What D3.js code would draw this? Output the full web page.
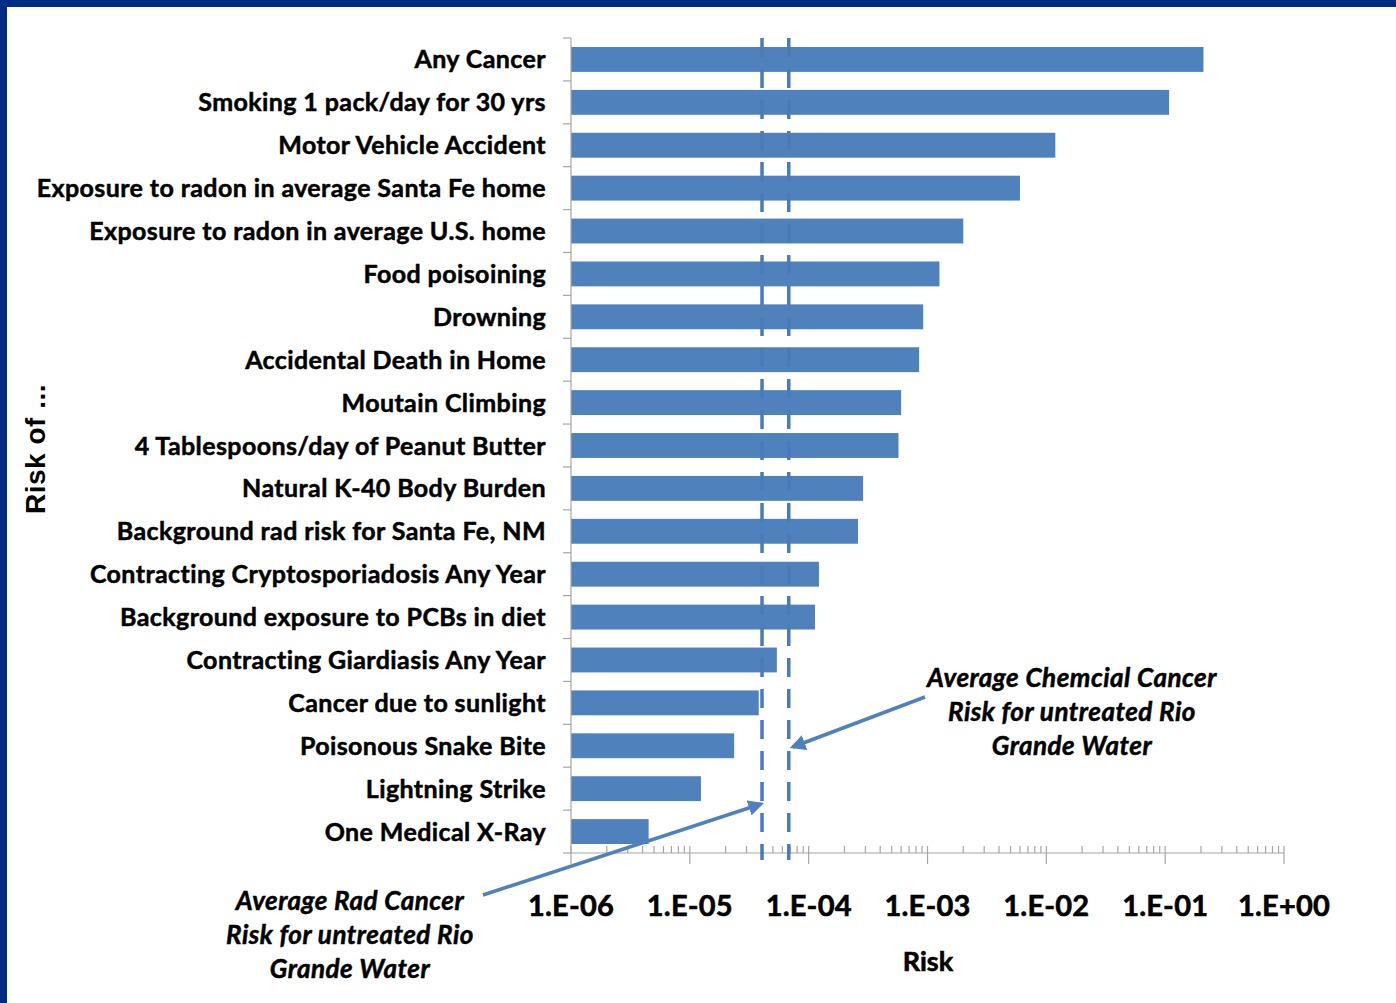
<!DOCTYPE html>
<html>
<head>
<meta charset="utf-8">
<script src="https://cdn.jsdelivr.net/npm/d3@7"></script>
<style>
  body { margin: 0; background: #fff; }
  svg { display: block; }
</style>
</head>
<body>
<script>
// risk categories, top to bottom
var categories = [
  "Any Cancer",
  "Smoking 1 pack/day for 30 yrs",
  "Motor Vehicle Accident",
  "Exposure to radon in average Santa Fe home",
  "Exposure to radon in average U.S. home",
  "Food poisoining",
  "Drowning",
  "Accidental Death in Home",
  "Moutain Climbing",
  "4 Tablespoons/day of Peanut Butter",
  "Natural K-40 Body Burden",
  "Background rad risk for Santa Fe, NM",
  "Contracting Cryptosporiadosis Any Year",
  "Background exposure to PCBs in diet",
  "Contracting Giardiasis Any Year",
  "Cancer due to sunlight",
  "Poisonous Snake Bite",
  "Lightning Strike",
  "One Medical X-Ray"
];
var risks = [0.21, 0.108, 0.0119, 0.006, 0.002, 0.00126, 0.00092, 0.00085, 0.0006, 0.00057,
  0.000287, 0.00026, 0.000122, 0.000113, 0.000054, 0.000038, 0.0000236, 0.0000124, 0.0000045];

var decades = [1e-6, 1e-5, 1e-4, 1e-3, 1e-2, 1e-1, 1];
var tickLabels = ["1.E-06", "1.E-05", "1.E-04", "1.E-03", "1.E-02", "1.E-01", "1.E+00"];

// reference lines (untreated Rio Grande water)
var radRisk = 0.0000405;
var chemRisk = 0.000068;
var radNote = ["Average Rad Cancer", "Risk for untreated Rio", "Grande Water"];
var chemNote = ["Average Chemcial Cancer", "Risk for untreated Rio", "Grande Water"];

var width = 1396, height = 1003;
var blue = "#4f81bd";
var labelFont = "Lato, 'Open Sans', sans-serif";

var svg = d3.select("body").append("svg")
  .attr("width", width)
  .attr("height", height);

svg.append("rect").attr("width", width).attr("height", height).attr("fill", "#fff");
// dark frame top + left
svg.append("rect").attr("x", 0).attr("y", 0).attr("width", width).attr("height", 7).attr("fill", "#002c85");
svg.append("rect").attr("x", 0).attr("y", 0).attr("width", 7).attr("height", height).attr("fill", "#002c85");

var x = d3.scaleLog().domain([1e-6, 1]).range([571, 1284]);
var y = d3.scaleBand().domain(categories).range([38, 853])
  .paddingInner(0.42).paddingOuter(0.21);

var defs = svg.append("defs");
defs.append("marker")
  .attr("id", "arrow")
  .attr("viewBox", "0 0 10 10")
  .attr("refX", 8).attr("refY", 5)
  .attr("markerWidth", 4.5).attr("markerHeight", 4.5)
  .attr("orient", "auto")
  .append("path").attr("d", "M0,0 L10,5 L0,10 z").attr("fill", blue);

// bars
svg.selectAll("rect.bar")
  .data(categories)
  .enter().append("rect")
  .attr("class", "bar")
  .attr("x", x(1e-6))
  .attr("y", function(d) { return y(d); })
  .attr("width", function(d, i) { return x(risks[i]) - x(1e-6); })
  .attr("height", y.bandwidth())
  .attr("fill", blue);

// y axis: line + ticks at band edges
var yAx = svg.append("g").attr("class", "yaxis");
yAx.append("line")
  .attr("x1", 571).attr("x2", 571).attr("y1", 38).attr("y2", 853)
  .attr("stroke", "#a6a6a6").attr("stroke-width", 1.2);
var edges = categories.map(function(d) { return y(d) - y.step() * y.paddingInner() / 2; });
edges.push(853);
yAx.selectAll("line.tk").data(edges).enter().append("line")
  .attr("class", "tk")
  .attr("x1", 563).attr("x2", 571)
  .attr("y1", function(d) { return d; }).attr("y2", function(d) { return d; })
  .attr("stroke", "#a6a6a6").attr("stroke-width", 1.2);

yAx.selectAll("text").data(categories).enter().append("text")
  .attr("x", 546)
  .attr("y", function(d) { return y(d) + y.bandwidth() / 2; })
  .attr("dy", "0.36em")
  .attr("text-anchor", "end")
  .attr("font-family", labelFont)
  .attr("font-weight", "bold")
  .attr("font-size", 25)
  .attr("letter-spacing", 0.4)
  .attr("fill", "#000")
  .attr("stroke", "#000").attr("stroke-width", 0.5)
  .text(function(d) { return d; });

// x axis
var minor = [];
decades.slice(0, -1).forEach(function(d) {
  for (var k = 2; k <= 9; k++) minor.push(d * k);
});
var xAx = svg.append("g").attr("class", "xaxis");
xAx.append("line")
  .attr("x1", x(1e-6)).attr("x2", x(1)).attr("y1", 853).attr("y2", 853)
  .attr("stroke", "#a6a6a6").attr("stroke-width", 1.2);
xAx.selectAll("line.minor").data(minor).enter().append("line")
  .attr("class", "minor")
  .attr("x1", function(d) { return x(d); }).attr("x2", function(d) { return x(d); })
  .attr("y1", 846).attr("y2", 853)
  .attr("stroke", "#a6a6a6").attr("stroke-width", 1.2);
xAx.selectAll("line.major").data(decades).enter().append("line")
  .attr("class", "major")
  .attr("x1", function(d) { return x(d); }).attr("x2", function(d) { return x(d); })
  .attr("y1", 846).attr("y2", 864)
  .attr("stroke", "#a6a6a6").attr("stroke-width", 1.2);
xAx.selectAll("text").data(decades).enter().append("text")
  .attr("x", function(d) { return x(d); })
  .attr("y", 916)
  .attr("text-anchor", "middle")
  .attr("font-family", labelFont)
  .attr("font-weight", "bold")
  .attr("font-size", 29)
  .attr("letter-spacing", 0.2)
  .attr("stroke", "#000").attr("stroke-width", 0.6)
  .text(function(d, i) { return tickLabels[i]; });

// dashed reference lines
[radRisk, chemRisk].forEach(function(r) {
  svg.append("line")
    .attr("x1", x(r)).attr("x2", x(r))
    .attr("y1", 38).attr("y2", 860)
    .attr("stroke", "#4a7bb8")
    .attr("stroke-width", 3.5)
    .attr("stroke-dasharray", "19,12");
});

// annotation arrows
svg.append("line")
  .attr("x1", 925).attr("y1", 697)
  .attr("x2", x(chemRisk) + 4).attr("y2", 747)
  .attr("stroke", blue).attr("stroke-width", 3.5)
  .attr("marker-end", "url(#arrow)");
svg.append("line")
  .attr("x1", 483).attr("y1", 895)
  .attr("x2", x(radRisk) - 1).attr("y2", 804)
  .attr("stroke", blue).attr("stroke-width", 3.5)
  .attr("marker-end", "url(#arrow)");

function note(lines, cx, cy) {
  svg.append("g").selectAll("text").data(lines).enter().append("text")
    .attr("x", cx)
    .attr("y", function(d, i) { return cy + i * 34; })
    .attr("dy", "0.36em")
    .attr("text-anchor", "middle")
    .attr("font-family", labelFont)
    .attr("font-weight", "bold")
    .attr("font-style", "italic")
    .attr("font-size", 26)
    .attr("letter-spacing", 0.5)
    .attr("stroke", "#000").attr("stroke-width", 0.5)
    .text(function(d) { return d; });
}
note(chemNote, 1072, 678);
note(radNote, 350, 901);

// axis titles
svg.append("text")
  .attr("x", 928).attr("y", 961).attr("dy", "0.36em")
  .attr("text-anchor", "middle")
  .attr("font-family", labelFont).attr("font-weight", "bold").attr("font-size", 27)
  .attr("stroke", "#000").attr("stroke-width", 0.6)
  .text("Risk");
svg.append("text")
  .attr("transform", "translate(35,449) rotate(-90)")
  .attr("dy", "0.36em")
  .attr("text-anchor", "middle")
  .attr("font-family", "'Liberation Sans', Arial, sans-serif")
  .attr("font-weight", "bold").attr("font-size", 28)
  .attr("letter-spacing", 0.5)
  .text("Risk of ...");
</script>
</body>
</html>
